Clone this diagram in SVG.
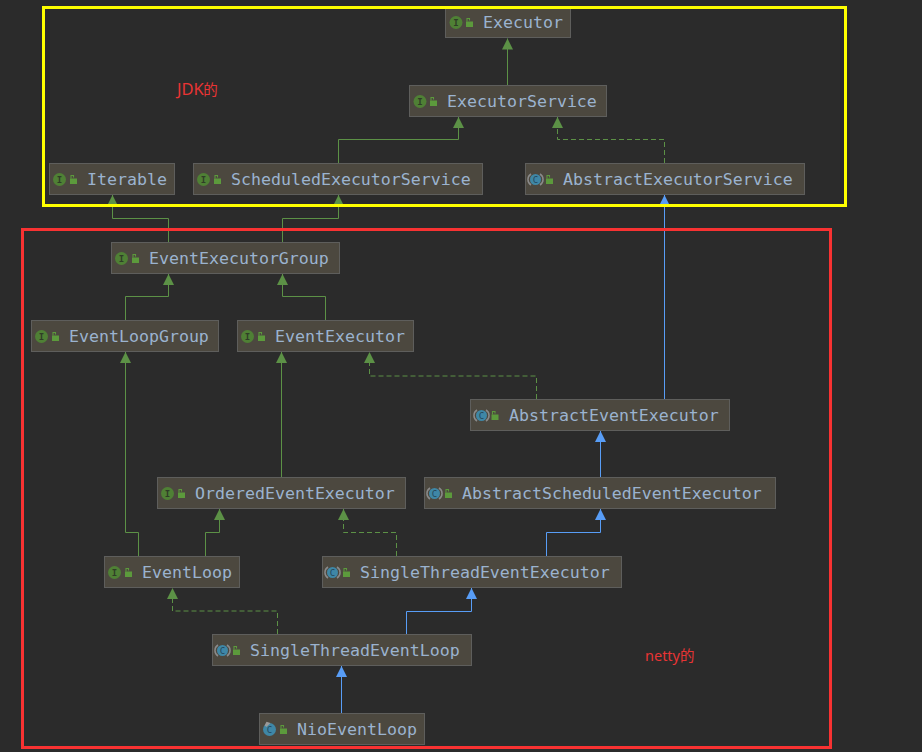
<svg xmlns="http://www.w3.org/2000/svg" width="922" height="752" viewBox="0 0 922 752">
<style>
.n{fill:#4c483f;stroke:#5e5e5c;stroke-width:1}
.t{font-family:"DejaVu Sans Mono",monospace;font-size:16.6px;fill:#9bb3cf}
.ic{font-family:"DejaVu Sans Mono",monospace;font-size:9px;font-weight:bold;fill:#2f3d27;text-anchor:middle}
.cc{font-family:"DejaVu Sans Mono",monospace;font-size:9px;fill:#24485c;text-anchor:middle}
.i{fill:#4f8035}
.c{fill:#3f87a6}
.a{fill:none;stroke:#8a8a8a;stroke-width:1.500}
.l{fill:#5c9a3c}
.s{fill:none;stroke:#5c9146;stroke-width:1}
.d{stroke-dasharray:5 3}
.b{fill:none;stroke:#589df6;stroke-width:1}
.hg{fill:#5c9146}
.hb{fill:#589df6}
.lab{font-family:"Noto Sans","Noto Sans CJK SC",sans-serif;font-size:14.500px;fill:#e83434}
</style>
<defs>
<g id="lk"><path class="l" d="M-3.500 -0.500H3.500V5H-3.500Z"/><path d="M-2.500 -0.500V-3.500H0V-1.500" fill="none" stroke="#5c9a3c" stroke-width="1.100"/></g>
<g id="ab"><path class="a" d="M-4.500 -5.500A6.500 6.500 0 0 0 -4.500 5.500M4.500 -5.500A6.500 6.500 0 0 1 4.500 5.500"/><circle class="c" r="5.500"/></g>
<marker id="mg" markerUnits="userSpaceOnUse" markerWidth="12" markerHeight="12" refX="11" refY="6" orient="auto"><path class="hg" d="M0 0.500L11 6L0 11.500Z"/></marker>
<marker id="mb" markerUnits="userSpaceOnUse" markerWidth="12" markerHeight="12" refX="11" refY="6" orient="auto"><path class="hb" d="M0 0.500L11 6L0 11.500Z"/></marker>
</defs>
<rect width="922" height="752" fill="#2b2b2b"/>

<g id="connectors">
<path class="s" marker-end="url(#mg)" d="M507.500 85V38.500"/>
<path class="s" marker-end="url(#mg)" d="M338.500 163V139.500H458.500V117"/>
<path class="s d" marker-end="url(#mg)" d="M664.500 163V139.500H557.500V117"/>
<path class="s" marker-end="url(#mg)" d="M168.500 242V218.500H112.500V195"/>
<path class="s" marker-end="url(#mg)" d="M282.500 242V218.500H338.500V195"/>
<path class="s" marker-end="url(#mg)" d="M125.500 320V296.500H168.500V274"/>
<path class="s" marker-end="url(#mg)" d="M325.500 320V296.500H282.500V274"/>
<path class="s" marker-end="url(#mg)" d="M138.500 556V532.500H125.500V352"/>
<path class="s" marker-end="url(#mg)" d="M205.500 556V532.500H219.500V509"/>
<path class="s" marker-end="url(#mg)" d="M281.500 477V352"/>
<path class="s d" marker-end="url(#mg)" d="M536.500 399V376H369.500V352"/>
<path class="s d" marker-end="url(#mg)" d="M396.500 556V532.500H343.500V509"/>
<path class="s d" marker-end="url(#mg)" d="M277.500 634V611H172.500V588"/>
<path class="b" marker-end="url(#mb)" d="M664.500 399V195"/>
<path class="b" marker-end="url(#mb)" d="M600.500 477V431"/>
<path class="b" marker-end="url(#mb)" d="M546.500 556V532.500H600.500V509"/>
<path class="b" marker-end="url(#mb)" d="M406.500 634V611.500H471.500V588"/>
<path class="b" marker-end="url(#mb)" d="M341.500 713V666"/>
</g>

<g id="executor"><rect class="n" x="445.500" y="6.500" width="125" height="31"/><circle class="i" cx="456" cy="22.500" r="6.500"/><text class="ic" x="456" y="25.800">I</text><use href="#lk" x="469.500" y="22"/><text class="t" x="483" y="28">Executor</text></g>
<g id="executorService"><rect class="n" x="409.500" y="85.500" width="197" height="31"/><circle class="i" cx="420" cy="101.500" r="6.500"/><text class="ic" x="420" y="104.800">I</text><use href="#lk" x="433.500" y="101"/><text class="t" x="447" y="107">ExecutorService</text></g>
<g id="iterable"><rect class="n" x="49.500" y="163.500" width="125" height="31"/><circle class="i" cx="59.500" cy="179.500" r="6.500"/><text class="ic" x="59.500" y="182.800">I</text><use href="#lk" x="73.500" y="179"/><text class="t" x="87" y="185">Iterable</text></g>
<g id="scheduledExecutorService"><rect class="n" x="193.500" y="163.500" width="289" height="31"/><circle class="i" cx="203.500" cy="179.500" r="6.500"/><text class="ic" x="203.500" y="182.800">I</text><use href="#lk" x="217.500" y="179"/><text class="t" x="231" y="185">ScheduledExecutorService</text></g>
<g id="abstractExecutorService"><rect class="n" x="525.500" y="163.500" width="279" height="31"/><use href="#ab" x="535.500" y="179.500"/><text class="cc" x="535.500" y="182.800">C</text><use href="#lk" x="549.500" y="179"/><text class="t" x="563" y="185">AbstractExecutorService</text></g>
<g id="eventExecutorGroup"><rect class="n" x="111.500" y="242.500" width="228" height="31"/><circle class="i" cx="121.500" cy="258.500" r="6.500"/><text class="ic" x="121.500" y="261.800">I</text><use href="#lk" x="135.500" y="258"/><text class="t" x="149" y="264">EventExecutorGroup</text></g>
<g id="eventLoopGroup"><rect class="n" x="31.500" y="320.500" width="187" height="31"/><circle class="i" cx="41.500" cy="336.500" r="6.500"/><text class="ic" x="41.500" y="339.800">I</text><use href="#lk" x="55.500" y="336"/><text class="t" x="69" y="342">EventLoopGroup</text></g>
<g id="eventExecutor"><rect class="n" x="237.500" y="320.500" width="176" height="31"/><circle class="i" cx="247.500" cy="336.500" r="6.500"/><text class="ic" x="247.500" y="339.800">I</text><use href="#lk" x="261.500" y="336"/><text class="t" x="275" y="342">EventExecutor</text></g>
<g id="abstractEventExecutor"><rect class="n" x="470.500" y="399.500" width="259" height="31"/><use href="#ab" x="481.500" y="415.500"/><text class="cc" x="481.500" y="418.800">C</text><use href="#lk" x="495" y="415"/><text class="t" x="509" y="421">AbstractEventExecutor</text></g>
<g id="orderedEventExecutor"><rect class="n" x="157.500" y="477.500" width="248" height="31"/><circle class="i" cx="167.500" cy="493.500" r="6.500"/><text class="ic" x="167.500" y="496.800">I</text><use href="#lk" x="181.500" y="493"/><text class="t" x="195" y="499">OrderedEventExecutor</text></g>
<g id="abstractScheduledEventExecutor"><rect class="n" x="424.500" y="477.500" width="351" height="31"/><use href="#ab" x="434.500" y="493.500"/><text class="cc" x="434.500" y="496.800">C</text><use href="#lk" x="448.500" y="493"/><text class="t" x="462" y="499">AbstractScheduledEventExecutor</text></g>
<g id="eventLoop"><rect class="n" x="104.500" y="556.500" width="135" height="31"/><circle class="i" cx="114.500" cy="572.500" r="6.500"/><text class="ic" x="114.500" y="575.800">I</text><use href="#lk" x="128.500" y="572"/><text class="t" x="142" y="578">EventLoop</text></g>
<g id="singleThreadEventExecutor"><rect class="n" x="322.500" y="556.500" width="299" height="31"/><use href="#ab" x="332.500" y="572.500"/><text class="cc" x="332.500" y="575.800">C</text><use href="#lk" x="346.500" y="572"/><text class="t" x="360" y="578">SingleThreadEventExecutor</text></g>
<g id="singleThreadEventLoop"><rect class="n" x="212.500" y="634.500" width="259" height="31"/><use href="#ab" x="222.500" y="650.500"/><text class="cc" x="222.500" y="653.800">C</text><use href="#lk" x="236.500" y="650"/><text class="t" x="250" y="656">SingleThreadEventLoop</text></g>
<g id="nioEventLoop"><rect class="n" x="259.500" y="713.500" width="165" height="31"/><circle class="c" cx="269.500" cy="729.500" r="6.500"/><path d="M264.500 725.500L266.500 721.800L270.500 723L266.500 727Z" fill="#9a9a9a"/><text class="cc" x="269.500" y="732.800">C</text><use href="#lk" x="283.500" y="729"/><text class="t" x="297" y="735">NioEventLoop</text></g>

<g id="jdkBox"><rect x="43.500" y="7.500" width="802" height="198" fill="none" stroke="#ffff00" stroke-width="3"/><text class="lab" x="177" y="95"><tspan font-size="16.500">JDK</tspan><tspan dx="-0.5">的</tspan></text></g>
<g id="nettyBox"><rect x="22.500" y="229.500" width="808" height="518" fill="none" stroke="#f83232" stroke-width="3"/><text class="lab" x="645" y="661">netty的</text></g>
</svg>
